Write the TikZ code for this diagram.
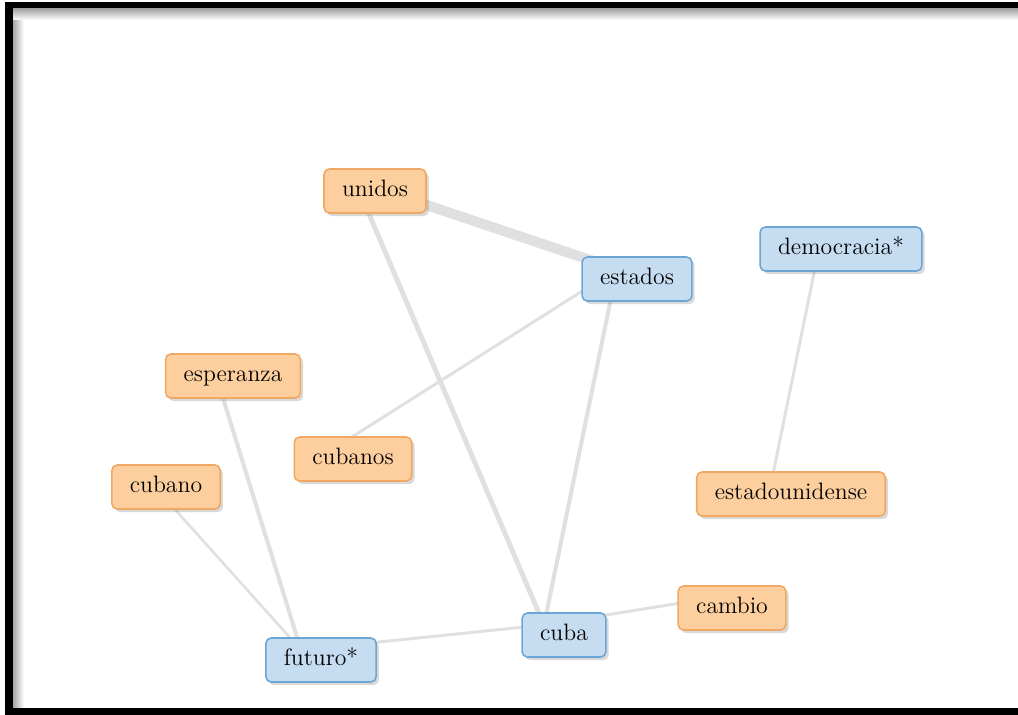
\documentclass[tikz,border=0pt]{standalone}
\usetikzlibrary{shadows,backgrounds}

\definecolor{orfill}{HTML}{FDCF9E}
\definecolor{ordraw}{HTML}{F2A865}
\definecolor{blfill}{HTML}{C6DCF1}
\definecolor{bldraw}{HTML}{6CA6D6}
\definecolor{linkgray}{HTML}{E0E0E0}

\begin{document}
\begin{tikzpicture}[x=0.02cm,y=-0.02cm,
    word/.style={rectangle,rounded corners=3pt,line width=0.9pt,
      minimum height=0.88cm,inner xsep=0.36cm,text height=9pt,text depth=3pt,
      font=\fontsize{13.5}{16}\selectfont,
      drop shadow={shadow xshift=1.6pt,shadow yshift=-1.8pt,opacity=0.3}},
    orword/.style={word,fill=orfill,draw=ordraw},
    blword/.style={word,fill=blfill,draw=bldraw},
    link/.style={draw=linkgray,line width=1.7pt}]
    \useasboundingbox (0,0) rectangle (1018,715);
    % frame
    \fill [black] (5,2) rectangle (1018,9);
    \fill [black] (5,2) rectangle (13,715);
    \fill [black] (5,708) rectangle (1018,715);
    \shade [left color=black!35,right color=white] (13,9) rectangle (24,708);
    \shade [top color=black!35,bottom color=white] (13,9) rectangle (1018,20);
    % words
    \node [orword] (unidos) at (375,191) {unidos};
    \node [blword] (estados) at (637,279) {estados};
    \node [blword] (democracia) at (841,249) {democracia*};
    \node [orword] (esperanza) at (233,376) {esperanza};
    \node [orword] (cubanos) at (353,459) {cubanos};
    \node [orword] (cubano) at (166,487) {cubano};
    \node [orword] (estadounidense) at (791,494) {estadounidense};
    \node [orword] (cambio) at (732,608) {cambio};
    \node [blword] (cuba) at (564,635) {cuba};
    \node [blword] (futuro) at (321,660) {futuro*};
    % links
    \begin{scope}[on background layer]
        \foreach \a/\b/\w in {unidos/estados/5.8,unidos/cuba/2.8,estados/cuba/2.3,
            estados/cubanos/1.7,democracia/estadounidense/1.7,esperanza/futuro/2.3,
            cubano/futuro/1.5,futuro/cuba/1.7,cuba/cambio/1.7}
            \draw [link,line width=\w pt] ([shift={(-20,-10)}]\a.center) -- ([shift={(-20,-10)}]\b.center);
    \end{scope}
\end{tikzpicture}
\end{document}
